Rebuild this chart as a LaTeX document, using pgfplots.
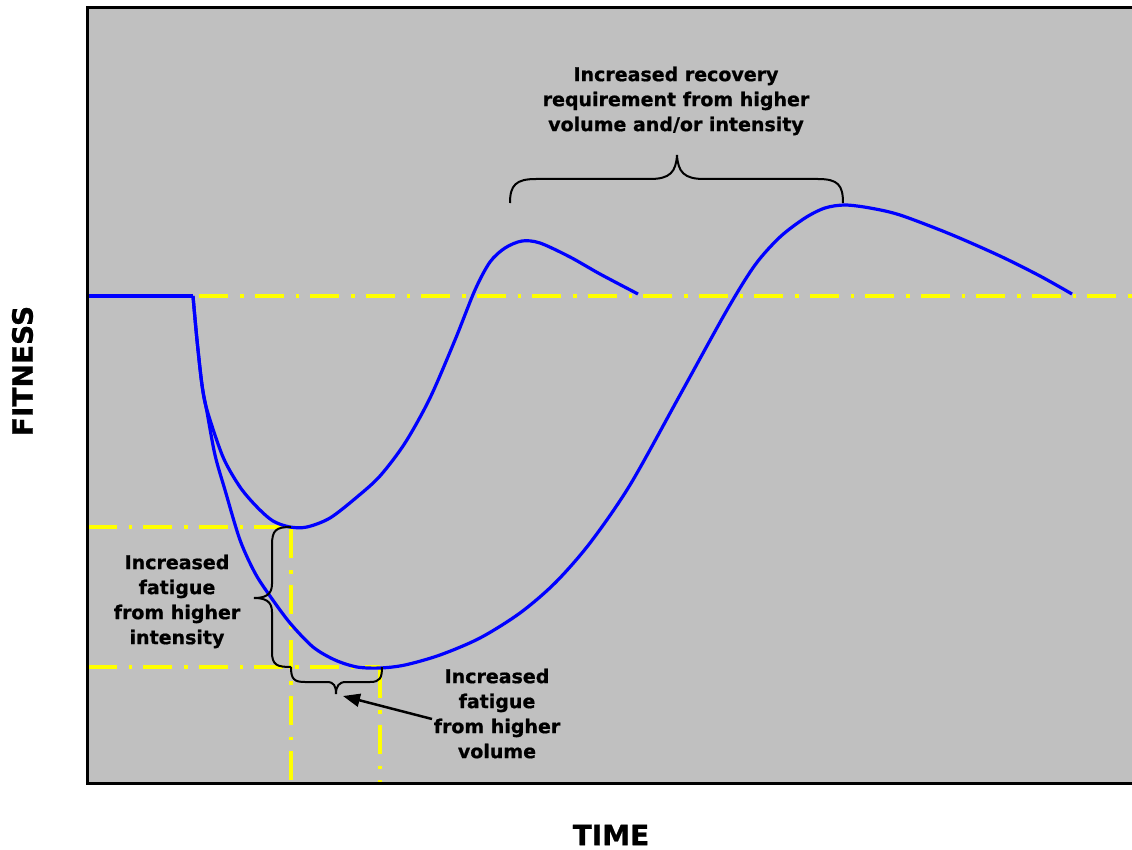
\documentclass[border=0pt]{standalone}
\usepackage{pgfplots}
\pgfplotsset{compat=1.18}
\usepackage{fontspec}
\setmainfont{DejaVu Sans}[BoldFeatures={FakeBold=0.8}]
\usetikzlibrary{arrows.meta}
\definecolor{bggray}{RGB}{192,192,192}
\definecolor{ylw}{RGB}{255,255,0}
\definecolor{blu}{RGB}{0,0,255}
\tikzset{
  ydash/.style={ylw, line width=4.5bp, dash pattern=on 29bp off 12bp on 3.5bp off 11bp},
  txt/.style={font=\bfseries\fontsize{19bp}{25bp}\selectfont, align=center, inner sep=0pt, anchor=north},
}
\begin{document}
\begin{tikzpicture}
\useasboundingbox (0,0) rectangle (1132bp,850bp);
\begin{axis}[
  at={(87.5bp,66.5bp)}, anchor=south west,
  scale only axis, width=1052.5bp, height=776bp,
  xmin=87.5, xmax=1140, ymin=7.5, ymax=783.5, y dir=reverse,
  axis line style={draw=none}, ticks=none,
  axis background/.style={fill=bggray},
  clip=false,
]
% yellow reference lines
\addplot[ydash] coordinates {(199,296) (1132,296)};
\addplot[ydash] coordinates {(87.5,527) (291,527)};
\addplot[ydash] coordinates {(87.5,667) (380,667)};
\addplot[ydash] coordinates {(291,529) (291,783)};
\addplot[ydash] coordinates {(380,669) (380,783)};
% blue curves
\addplot[blu, line width=3.2bp] coordinates {(87.5,296) (193,296)};
\addplot[blu, line width=3.2bp, smooth, tension=0.5] coordinates {
(193,296) (197,340) (202,385) (207,410) (223,457) (240,487) (257,507) (273,521) (290,527) (307,527) (330,518) (357,497) (380,476) (405,443) (430,398) (455,340) (475,290) (490,262) (505,248) (522,241) (540,243) (570,257) (600,274) (638,294)};
\addplot[blu, line width=3.2bp, smooth, tension=0.5] coordinates {
(193,296) (197,340) (202,385) (207,412) (215,455) (225,490) (240,540) (255,573) (270,596) (290,623) (313,647) (335,660) (357,667) (380,668) (405,665) (440,655) (480,638) (520,613) (555,583) (590,543) (630,485) (680,395) (727,310) (755,265) (780,237) (805,218) (825,208) (845,205) (870,208) (900,215) (950,234) (1000,256) (1040,276) (1072,294)};
% frame
\draw[black, line width=3bp, line join=miter] (axis cs:1140,7.5) -- (axis cs:87.5,7.5) -- (axis cs:87.5,783.5) -- (axis cs:1140,783.5);
% braces
\draw[black, line width=2bp] (axis cs:291,527) .. controls (axis cs:276,527) and (axis cs:272,530) .. (axis cs:272,545) -- (axis cs:272,584) .. controls (axis cs:272,595) and (axis cs:265,598) .. (axis cs:254,598) .. controls (axis cs:265,598) and (axis cs:272,601) .. (axis cs:272,612) -- (axis cs:272,652) .. controls (axis cs:272,665) and (axis cs:277,667) .. (axis cs:291,667);
\draw[black, line width=2bp] (axis cs:291,667) .. controls (axis cs:291,679) and (axis cs:294,682) .. (axis cs:305,682) -- (axis cs:327,682) .. controls (axis cs:334,682) and (axis cs:336,686) .. (axis cs:336,694) .. controls (axis cs:336,686) and (axis cs:339,682) .. (axis cs:346,682) -- (axis cs:370,682) .. controls (axis cs:380,682) and (axis cs:382,678) .. (axis cs:382,667);
\draw[black, line width=2bp] (axis cs:510,203) .. controls (axis cs:510,185) and (axis cs:516,179) .. (axis cs:536,179) -- (axis cs:650,179) .. controls (axis cs:670,179) and (axis cs:676,172) .. (axis cs:677,155) .. controls (axis cs:678,172) and (axis cs:684,179) .. (axis cs:704,179) -- (axis cs:818,179) .. controls (axis cs:838,179) and (axis cs:843,185) .. (axis cs:843,203);
% arrow
\draw[black, line width=2.5bp, -{Triangle[length=17bp,width=13bp]}] (axis cs:432,719) -- (axis cs:343,696);
% texts
\node[txt] at (axis cs:676,66.5) {Increased recovery\\requirement from higher\\volume and/or intensity};
\node[txt] at (axis cs:177,554.5) {Increased\\fatigue\\from higher\\intensity};
\node[txt] at (axis cs:497,668.5) {Increased\\fatigue\\from higher\\volume};
\node[font=\bfseries\fontsize{28bp}{30bp}\selectfont, rotate=90, inner sep=0pt] at (axis cs:22.5,371) {FITNESS};
\node[font=\bfseries\fontsize{28bp}{30bp}\selectfont, inner sep=0pt] at (axis cs:611,835) {TIME};
\end{axis}
\end{tikzpicture}
\end{document}
